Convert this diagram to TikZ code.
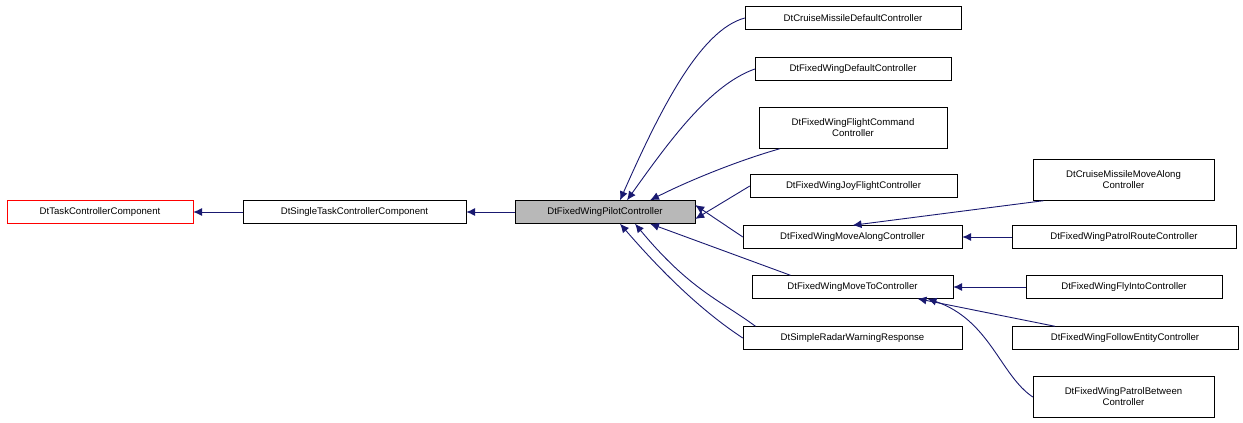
\documentclass[tikz,border=0pt]{standalone}
\usepackage{fontspec}
\setmainfont{Liberation Sans}
\usetikzlibrary{positioning,arrows.meta}
\definecolor{edgeblue}{HTML}{191970}
\begin{document}
\begin{tikzpicture}[x=1pt,y=-1pt,
    cls/.style={rectangle, draw=black, fill=white, font=\fontsize{9.6}{11}\selectfont, inner sep=0pt, minimum height=23pt, align=center},
    cls-two/.style={cls, minimum height=41pt},
    cls-base/.style={cls, draw=red},
    cls-self/.style={cls, fill=black!28},
    inherit/.style={draw=edgeblue, line width=0.9pt, {Latex[length=9pt,width=8pt]}-}
  ]
  \useasboundingbox (0,0) rectangle (1243,423);
  % left part
  \node[cls-base, minimum width=186pt] (task) at (100,212) {DtTaskControllerComponent};
  \node[cls, minimum width=223pt] (single) at (354.5,212) {DtSingleTaskControllerComponent};
  \node[cls-self, minimum width=180pt] (pilot) at (605,212) {DtFixedWingPilotController};
  % children of the pilot controller
  \node[cls, minimum width=216pt] (cmdefault) at (853,18) {DtCruiseMissileDefaultController};
  \node[cls, minimum width=196pt] (fwdefault) at (853,69) {DtFixedWingDefaultController};
  \node[cls-two, minimum width=188pt] (flightcmd) at (853,128) {DtFixedWingFlightCommand\\Controller};
  \node[cls, minimum width=207pt] (joy) at (853.5,186) {DtFixedWingJoyFlightController};
  \node[cls, minimum width=219pt] (movealong) at (852.5,237) {DtFixedWingMoveAlongController};
  \node[cls, minimum width=201pt] (moveto) at (852.5,287) {DtFixedWingMoveToController};
  \node[cls, minimum width=219pt] (radar) at (852.5,338) {DtSimpleRadarWarningResponse};
  % grandchildren
  \node[cls-two, minimum width=181pt] (cmmovealong) at (1123.5,180) {DtCruiseMissileMoveAlong\\Controller};
  \node[cls, minimum width=224pt] (patrolroute) at (1124,237) {DtFixedWingPatrolRouteController};
  \node[cls, minimum width=196pt] (flyinto) at (1124,287) {DtFixedWingFlyIntoController};
  \node[cls, minimum width=226pt] (follow) at (1125,338) {DtFixedWingFollowEntityController};
  \node[cls-two, minimum width=181pt] (patrolbetween) at (1123.5,397) {DtFixedWingPatrolBetween\\Controller};

  \draw[inherit] (task) -- (single);
  \draw[inherit] (single) -- (pilot);
  \draw[inherit] ([xshift=15pt]pilot.north) .. controls (660,110) and (700,30) .. (cmdefault.west);
  \draw[inherit] ([xshift=22pt]pilot.north) .. controls (670,140) and (710,85) .. (fwdefault.west);
  \draw[inherit] ([xshift=45pt]pilot.north) .. controls (690,180) and (740,160) .. ([xshift=-73pt]flightcmd.south);
  \draw[inherit] ([yshift=-7pt]pilot.east) -- (joy.west);
  \draw[inherit] ([yshift=7pt]pilot.east) -- (movealong.west);
  \draw[inherit] ([xshift=45pt]pilot.south) -- ([xshift=-62pt]moveto.north);
  \draw[inherit] ([xshift=30pt]pilot.south) .. controls (690,290) and (720,300) .. ([xshift=-97pt]radar.north);
  \draw[inherit] ([xshift=15pt]pilot.south) .. controls (660,270) and (700,310) .. (radar.west);
  \draw[inherit] (movealong.north) -- ([xshift=-80pt]cmmovealong.south);
  \draw[inherit] (movealong) -- (patrolroute);
  \draw[inherit] (moveto) -- (flyinto);
  \draw[inherit] ([xshift=65pt]moveto.south) -- ([xshift=-70pt]follow.north);
  \draw[inherit] ([xshift=75pt]moveto.south) .. controls (990,320) and (1000,375) .. (patrolbetween.west);
\end{tikzpicture}
\end{document}
